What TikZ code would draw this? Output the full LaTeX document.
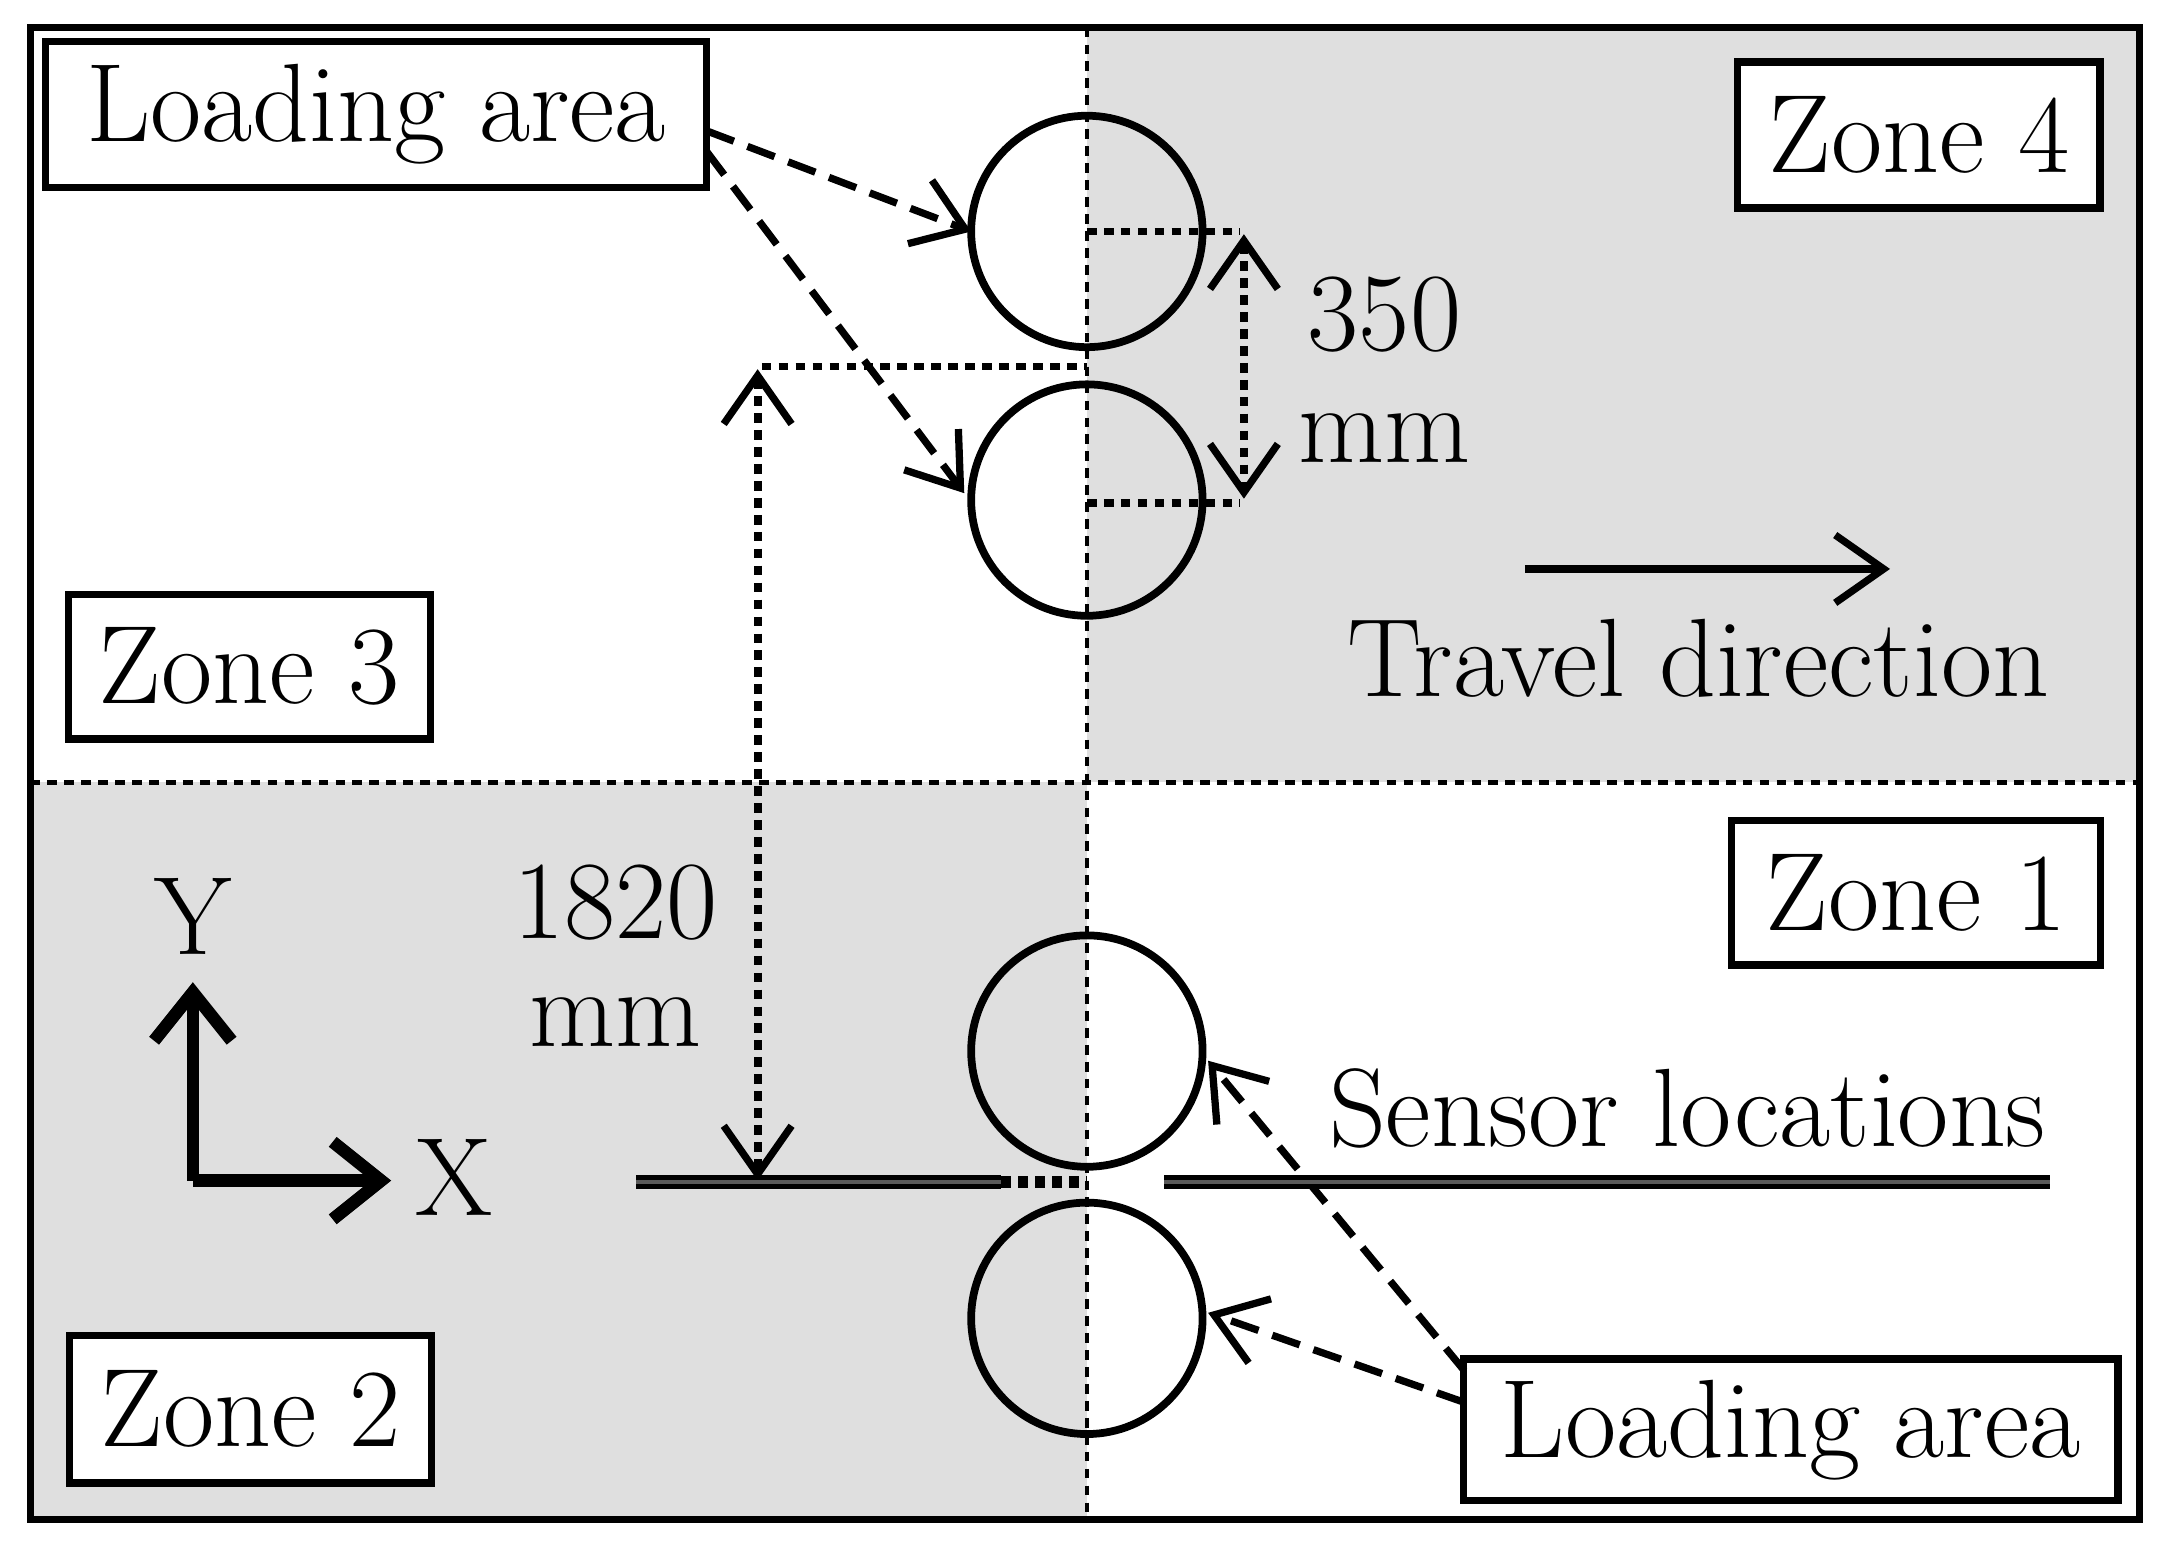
\documentclass[tikz,border=0pt]{standalone}
\usetikzlibrary{arrows.meta}
\begin{document}
\begin{tikzpicture}[x=0.01cm,y=-0.01cm,
  lw/.style={line width=1.5pt},
  box/.style={draw,lw,fill=white,inner sep=0pt},
  lbl/.style={font=\fontsize{23}{26}\selectfont},
  tip/.style={-{Straight Barb[length=10pt,width=14pt,line width=1.5pt]}},
  dtip/.style={{Straight Barb[length=10pt,width=14pt,line width=1.5pt]}-{Straight Barb[length=10pt,width=14pt,line width=1.5pt]}},
  dsh/.style={lw,dash pattern=on 6pt off 3pt},
  dot/.style={line width=1.6pt,dash pattern=on 2pt off 1.5pt},
  circ/.style={draw,circle,line width=1.6pt,minimum size=168*0.01cm,inner sep=0pt}]
\useasboundingbox (0,0) rectangle (1568,1126);
\fill[gray!25] (789,20) rectangle (1553,568);
\fill[gray!25] (22,568) rectangle (789,1103);
\draw[dot,line width=0.9pt] (789,20) -- (789,1103);
\draw[dot,line width=0.9pt] (22,568) -- (1553,568);
\draw[lw] (22,20) rectangle (1553,1103);
\node[circ] (c1) at (789,168) {};
\node[circ] (c2) at (789,363) {};
\node[circ] (c3) at (789,763) {};
\node[circ] (c4) at (789,957) {};
\node[box,minimum width=480*0.01cm,minimum height=106*0.01cm,lbl] (la1) at (273,83) {Loading area};
\node[box,minimum width=475*0.01cm,minimum height=103*0.01cm,lbl] (la2) at (1300,1038) {Loading area};
\node[box,minimum width=263*0.01cm,minimum height=105*0.01cm,lbl] (z3) at (181,484) {Zone 3};
\node[box,minimum width=263*0.01cm,minimum height=106*0.01cm,lbl] (z4) at (1393,98) {Zone 4};
\node[box,minimum width=268*0.01cm,minimum height=105*0.01cm,lbl] (z1) at (1391,648) {Zone 1};
\node[box,minimum width=263*0.01cm,minimum height=107*0.01cm,lbl] (z2) at (182,1023) {Zone 2};
\coordinate (a1s) at (513,95); \coordinate (a1e) at (705,168);
\coordinate (a2s) at (513,110); \coordinate (a2e) at (700,358);
\draw[dsh,tip] (a1s) -- (a1e);
\draw[dsh,tip] (a2s) -- (a2e);
\coordinate (a3s) at (1063,995); \coordinate (a3e) at (877,770);
\coordinate (a4s) at (1063,1018); \coordinate (a4e) at (877,953);
\draw[dsh,tip] (a3s) -- (a3e);
\draw[dsh,tip] (a4s) -- (a4e);
% 350 mm
\draw[dot] (789,168) -- (900,168);
\draw[dot] (789,365) -- (900,365);
\coordinate (d1a) at (903,170); \coordinate (d1b) at (903,362);
\draw[dot,dtip] (d1a) -- (d1b);
\node[lbl] (t350) at (1005,228) {350};
\node[lbl] (tmm1) at (1005,318) {mm};
% 1820 mm
\draw[dot] (553,266) -- (789,266);
\coordinate (d2a) at (550,268); \coordinate (d2b) at (550,857);
\draw[dot,dtip] (d2a) -- (d2b);
\node[lbl] (t1820) at (447,655) {1820};
\node[lbl] (tmm2) at (447,742) {mm};
% travel
\coordinate (tr1) at (1107,413); \coordinate (tr2) at (1372,413);
\draw[lw,tip] (tr1) -- (tr2);
\node[lbl] (trt) at (1233,478) {Travel direction};
% axes
\coordinate (o) at (140,857);
\coordinate (oy) at (140,713); \coordinate (ox) at (284,857);
\draw[line width=2.6pt,-{Straight Barb[length=10pt,width=16pt,line width=2.6pt]}] (o) -- (oy);
\draw[line width=2.6pt,-{Straight Barb[length=10pt,width=16pt,line width=2.6pt]}] (o) -- (ox);
\node[lbl] (ty) at (140,665) {Y};
\node[lbl] (tx) at (330,855) {X};
% sensors
\draw[line width=2.8pt] (462,858) -- (727,858);
\draw[line width=1pt,gray!70!black] (462,858) -- (727,858);
\draw[dot,line width=2.4pt] (727,858) -- (789,858);
\draw[line width=2.8pt] (845,858) -- (1488,858);
\draw[line width=1pt,gray!70!black] (845,858) -- (1488,858);
\node[lbl] (sl) at (1225,805) {Sensor locations};
\end{tikzpicture}
\end{document}
